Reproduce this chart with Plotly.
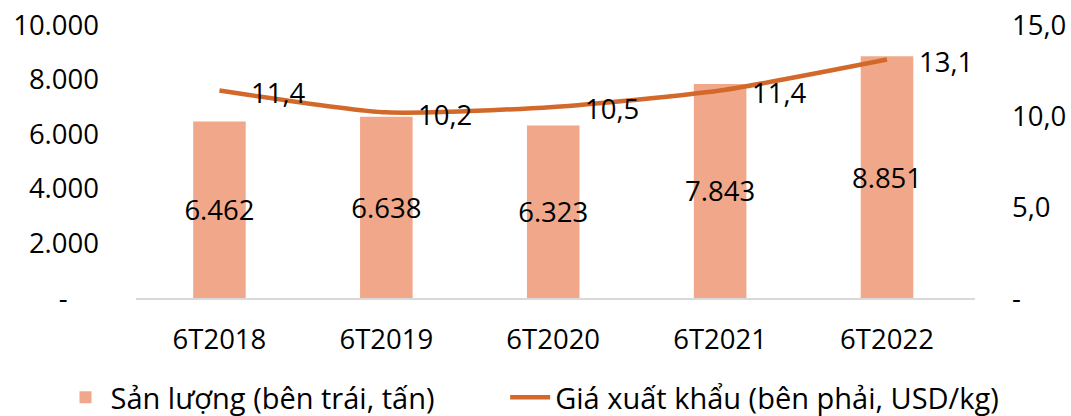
import plotly.graph_objects as go

categories = ["6T2018", "6T2019", "6T2020", "6T2021", "6T2022"]
volume = [6462, 6638, 6323, 7843, 8851]
volume_labels = ["6.462", "6.638", "6.323", "7.843", "8.851"]
price = [11.4, 10.2, 10.5, 11.4, 13.1]
price_labels = ["11,4", "10,2", "10,5", "11,4", "13,1"]
left_ticks = [0, 2000, 4000, 6000, 8000, 10000]
left_ticktext = ["-\u2007\u2007", "2.000", "4.000", "6.000", "8.000", "10.000"]
right_ticks = [0, 5, 10, 15]
right_ticktext = ["-", "5,0", "10,0", "15,0"]

FONT = "Open Sans"
FS = 27.5
LFS = 29
BAR_COLOR = "#F1A88A"
LINE_COLOR = "#D2692A"

fig = go.Figure()
fig.add_trace(go.Bar(
    x=categories, y=volume, name="Sản lượng (bên trái, tấn)",
    marker=dict(color=BAR_COLOR, line=dict(width=0)),
    width=0.315,
    text=volume_labels, textposition="inside", insidetextanchor="middle",
    textangle=0, constraintext="none",
    textfont=dict(family=FONT, size=FS, color="black"),
    hoverinfo="skip", legend="legend",
))
fig.add_trace(go.Scatter(
    x=categories, y=price, name="Giá xuất khẩu (bên phải, USD/kg)",
    yaxis="y2", mode="lines",
    line=dict(color=LINE_COLOR, width=4.5, shape="spline", smoothing=0.6),
    hoverinfo="skip", legend="legend2",
))
for c, v, t in zip(categories, price, price_labels):
    fig.add_annotation(x=c, y=v, yref="y2", text=t, showarrow=False,
                       xanchor="left", yanchor="middle", xshift=30, yshift=-2,
                       font=dict(family=FONT, size=FS, color="black"))

legend_common = dict(orientation="h", yanchor="middle", y=-0.364, xanchor="left",
                     font=dict(family=FONT, size=LFS, color="black"),
                     itemwidth=40, bgcolor="rgba(0,0,0,0)")

fig.update_layout(
    width=1071, height=416,
    margin=dict(l=136, r=96, t=25, b=118, autoexpand=False),
    paper_bgcolor="white", plot_bgcolor="white",
    font=dict(family=FONT, size=FS, color="black"),
    bargap=0.5,
    showlegend=True,
    legend=dict(x=-0.09, **legend_common),
    legend2=dict(x=0.44, **legend_common),
    xaxis=dict(showgrid=False, showline=True, linecolor="#D9D9D9", linewidth=2,
               ticks="", ticklabelstandoff=16, automargin=False,
               tickfont=dict(family=FONT, size=FS)),
    yaxis=dict(range=[0, 10000], tickvals=left_ticks, ticktext=left_ticktext,
               showgrid=False, zeroline=False, showline=False, ticks="",
               ticklabelstandoff=36, automargin=False, tickfont=dict(family=FONT, size=FS)),
    yaxis2=dict(range=[0, 15], tickvals=right_ticks, ticktext=right_ticktext,
                overlaying="y", side="right", showgrid=False, zeroline=False,
                showline=False, ticks="", ticklabelstandoff=36, automargin=False,
                tickfont=dict(family=FONT, size=FS)),
)

fig.write_html(
    "out.html",
    config={"displayModeBar": False},
    post_script="document.body.style.margin='0';document.body.style.padding='0';document.body.style.overflow='hidden';",
)
